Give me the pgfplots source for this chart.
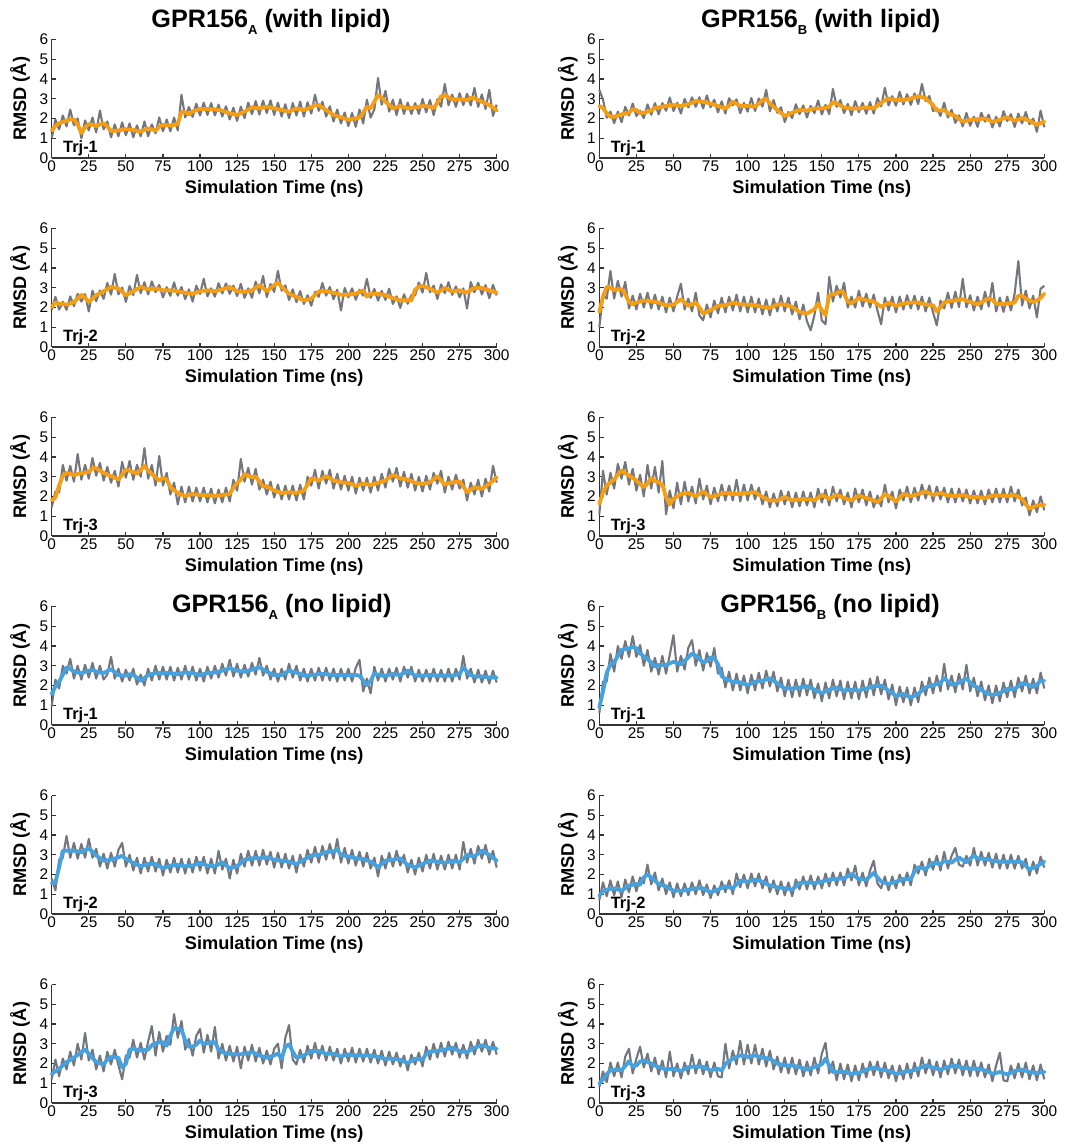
\documentclass[border=0pt]{standalone}
\usepackage{fontspec}
\setmainfont{Liberation Sans}
\usepackage{pgfplots}
\usepackage{pgfplotstable}
\pgfplotsset{compat=1.18}
\definecolor{rmsdgray}{RGB}{116,118,126}
\definecolor{lipidorange}{RGB}{245,158,20}
\definecolor{nolipidblue}{RGB}{70,162,222}

% GPR156_A with lipid, Trj-1
\pgfplotstableread{
x g s
0 1.00 1.39
2.5 1.95 1.62
5 1.45 1.76
7.5 2.15 1.83
10 1.60 1.89
12.5 2.45 1.96
15 1.65 1.95
17.5 2.00 1.70
20 1.00 1.26
22.5 1.90 1.55
25 1.40 1.72
27.5 2.05 1.68
30 1.30 1.62
32.5 2.40 1.70
35 1.45 1.76
37.5 1.85 1.60
40 1.05 1.37
42.5 1.70 1.38
45 1.10 1.39
47.5 1.80 1.43
50 1.15 1.46
52.5 1.75 1.44
55 1.05 1.42
57.5 1.65 1.38
60 1.10 1.34
62.5 1.85 1.42
65 1.10 1.50
67.5 1.70 1.45
70 1.25 1.39
72.5 2.05 1.58
75 1.35 1.67
77.5 1.95 1.66
80 1.35 1.64
82.5 2.05 1.68
85 1.40 1.72
87.5 3.20 2.35
90 2.05 2.31
92.5 2.58 2.20
95 2.08 2.35
97.5 2.75 2.42
100 2.15 2.48
102.5 2.80 2.48
105 2.18 2.48
107.5 2.78 2.47
110 2.16 2.46
112.5 2.70 2.43
115 2.10 2.40
117.5 2.62 2.33
120 1.95 2.26
122.5 2.55 2.22
125 1.88 2.18
127.5 2.60 2.27
130 2.02 2.35
132.5 2.80 2.46
135 2.22 2.56
137.5 2.88 2.53
140 2.20 2.51
142.5 2.90 2.56
145 2.28 2.60
147.5 2.92 2.55
150 2.18 2.51
152.5 2.80 2.47
155 2.10 2.43
157.5 2.72 2.39
160 2.02 2.35
162.5 2.78 2.43
165 2.15 2.51
167.5 2.85 2.47
170 2.10 2.43
172.5 2.82 2.50
175 2.25 2.56
177.5 3.20 2.70
180 2.39 2.68
182.5 2.85 2.55
185 2.10 2.43
187.5 2.62 2.30
190 1.85 2.18
192.5 2.45 2.12
195 1.75 2.06
197.5 2.30 2.00
200 1.62 1.93
202.5 2.28 1.97
205 1.58 2.01
207.5 2.45 2.05
210 1.75 2.30
212.5 2.95 2.60
215 2.05 2.51
217.5 2.45 2.85
220 4.05 3.18
222.5 2.70 3.05
225 3.40 2.85
227.5 2.35 2.68
230 2.95 2.51
232.5 2.17 2.57
235 2.97 2.63
237.5 2.23 2.57
240 2.80 2.51
242.5 2.23 2.54
245 2.78 2.56
247.5 2.23 2.60
250 2.99 2.63
252.5 2.31 2.62
255 2.94 2.60
257.5 2.17 2.52
260 2.98 2.80
262.5 2.60 3.12
265 3.75 3.18
267.5 2.67 3.07
270 3.21 2.97
272.5 2.59 2.97
275 3.28 2.97
277.5 2.68 2.95
280 3.25 2.93
282.5 2.66 3.05
285 3.55 3.02
287.5 2.59 2.93
290 3.22 2.85
292.5 2.48 2.77
295 3.45 2.68
297.5 2.13 2.55
300 2.70 2.40
}\tAone

% GPR156_B with lipid, Trj-1
\pgfplotstableread{
x g s
0 3.45 2.63
2.5 2.95 2.53
5 2.04 2.26
7.5 2.35 2.09
10 1.76 2.09
12.5 2.35 2.15
15 1.81 2.21
17.5 2.59 2.25
20 2.15 2.29
22.5 2.76 2.47
25 2.12 2.43
27.5 2.40 2.28
30 2.02 2.29
32.5 2.71 2.35
35 2.19 2.40
37.5 2.78 2.54
40 2.21 2.56
42.5 2.78 2.60
45 2.39 2.63
47.5 3.06 2.66
50 2.38 2.68
52.5 2.80 2.66
55 2.25 2.63
57.5 2.99 2.68
60 2.56 2.73
62.5 3.07 2.80
65 2.59 2.88
67.5 3.08 2.87
70 2.51 2.85
72.5 3.17 2.80
75 2.57 2.76
77.5 2.95 2.70
80 2.31 2.63
82.5 2.87 2.57
85 2.25 2.51
87.5 3.03 2.65
90 2.67 2.85
92.5 2.97 2.75
95 2.27 2.63
97.5 2.79 2.63
100 2.35 2.63
102.5 3.04 2.62
105 2.38 2.60
107.5 3.01 2.75
110 2.60 2.93
112.5 3.45 3.00
115 2.36 2.76
117.5 2.94 2.60
120 2.29 2.43
122.5 2.57 2.28
125 1.82 2.13
127.5 2.33 2.21
130 2.02 2.29
132.5 2.72 2.36
135 2.22 2.43
137.5 2.66 2.42
140 2.05 2.40
142.5 2.64 2.46
145 2.27 2.51
147.5 2.91 2.51
150 2.21 2.51
152.5 2.69 2.55
155 2.22 2.60
157.5 3.50 2.82
160 2.59 2.76
162.5 2.93 2.66
165 2.27 2.56
167.5 2.74 2.53
170 2.17 2.51
172.5 2.88 2.51
175 2.32 2.51
177.5 2.79 2.54
180 2.24 2.56
182.5 2.83 2.53
185 2.25 2.51
187.5 3.03 2.65
190 2.62 2.80
192.5 3.55 2.91
195 2.66 3.02
197.5 3.13 2.97
200 2.65 2.93
202.5 3.35 2.93
205 2.71 2.93
207.5 3.23 2.97
210 2.69 3.02
212.5 3.27 3.07
215 2.73 3.13
217.5 3.75 3.08
220 2.88 3.02
222.5 3.14 2.85
225 2.37 2.68
227.5 2.52 2.40
230 2.13 2.40
232.5 2.80 2.44
235 2.05 2.26
237.5 2.44 2.20
240 1.78 2.13
242.5 2.16 1.98
245 1.60 1.84
247.5 2.28 1.88
250 1.63 1.93
252.5 2.09 1.95
255 1.58 1.96
257.5 2.29 1.98
260 1.84 2.01
262.5 2.19 1.92
265 1.55 1.84
267.5 2.09 1.88
270 1.59 1.93
272.5 2.37 2.00
275 1.87 2.06
277.5 2.22 1.97
280 1.57 1.89
282.5 2.25 1.95
285 1.75 2.01
287.5 2.33 1.95
290 1.71 1.89
292.5 2.00 1.78
295 1.32 1.68
297.5 2.40 1.76
300 1.56 1.84
}\tBone

% GPR156_A with lipid, Trj-2
\pgfplotstableread{
x g s
0 1.89 2.03
2.5 2.54 2.25
5 1.89 2.20
7.5 2.29 2.17
10 1.88 2.15
12.5 2.56 2.20
15 2.07 2.28
17.5 2.69 2.45
20 2.30 2.65
22.5 2.68 2.50
25 1.80 2.28
27.5 2.85 2.45
30 2.32 2.62
32.5 2.86 2.72
35 2.44 2.82
37.5 3.24 2.93
40 2.65 3.04
42.5 3.70 3.00
45 2.67 2.96
47.5 3.01 2.80
50 2.28 2.62
52.5 3.09 2.72
55 2.63 2.82
57.5 3.65 2.93
60 2.72 3.04
62.5 3.28 2.98
65 2.66 2.92
67.5 3.32 2.94
70 2.78 2.96
72.5 3.14 2.92
75 2.51 2.87
77.5 3.03 2.87
80 2.59 2.87
82.5 3.27 2.85
85 2.60 2.82
87.5 3.04 2.78
90 2.42 2.75
92.5 2.92 2.72
95 2.30 2.70
97.5 3.10 2.76
100 2.68 2.82
102.5 3.45 2.85
105 2.56 2.87
107.5 2.97 2.85
110 2.55 2.82
112.5 3.23 2.87
115 2.71 2.92
117.5 3.22 2.98
120 2.69 3.04
122.5 3.11 2.93
125 2.58 2.82
127.5 3.20 2.80
130 2.49 2.79
132.5 2.97 2.83
135 2.49 2.87
137.5 3.31 3.00
140 2.72 3.13
142.5 3.60 2.98
145 2.53 2.82
147.5 3.19 2.98
150 2.79 3.13
152.5 3.85 3.27
155 2.85 3.04
157.5 3.12 2.87
160 2.38 2.70
162.5 2.92 2.62
165 2.27 2.53
167.5 2.83 2.45
170 2.18 2.36
172.5 2.62 2.40
175 2.09 2.45
177.5 2.79 2.63
180 2.54 2.82
182.5 3.24 2.82
185 2.60 2.82
187.5 3.04 2.78
190 2.42 2.75
192.5 2.90 2.70
195 1.85 2.65
197.5 2.99 2.65
200 2.51 2.65
202.5 2.97 2.68
205 2.39 2.70
207.5 2.90 2.78
210 2.60 2.87
212.5 3.45 2.55
215 2.49 2.70
217.5 2.94 2.70
220 2.35 2.70
222.5 2.84 2.66
225 2.38 2.62
227.5 2.95 2.55
230 2.18 2.48
232.5 2.56 2.42
235 1.98 2.36
237.5 2.67 2.36
240 2.19 2.36
242.5 2.63 2.36
245 2.61 2.90
247.5 3.27 3.06
250 2.75 3.09
252.5 3.75 3.02
255 2.77 2.96
257.5 3.11 2.86
260 2.43 2.75
262.5 3.17 2.87
265 2.73 2.99
267.5 3.28 2.90
270 2.64 2.82
272.5 3.07 2.85
275 2.51 2.87
277.5 2.97 2.81
280 1.95 2.75
282.5 3.29 2.87
285 2.77 2.99
287.5 3.25 2.99
290 2.66 2.99
292.5 3.13 2.93
295 2.47 2.87
297.5 3.15 2.81
300 2.61 2.75
}\tAtwo

% GPR156_B with lipid, Trj-2
\pgfplotstableread{
x g s
0 1.00 1.77
2.5 2.60 2.55
5 2.45 3.04
7.5 3.85 3.00
10 2.45 2.87
12.5 3.35 2.92
15 2.55 2.92
17.5 3.30 2.67
20 1.95 2.28
22.5 2.60 2.17
25 1.90 2.25
27.5 2.70 2.30
30 2.00 2.36
32.5 2.75 2.34
35 1.95 2.31
37.5 2.65 2.28
40 1.90 2.25
42.5 2.55 2.18
45 1.75 2.11
47.5 2.50 2.13
50 1.80 2.15
52.5 2.55 2.28
55 3.20 2.42
57.5 1.90 2.25
60 2.45 2.08
62.5 1.80 2.16
65 2.75 2.25
67.5 1.60 2.00
70 1.35 1.69
72.5 2.15 1.78
75 1.50 1.86
77.5 2.35 1.97
80 1.70 2.08
82.5 2.50 2.10
85 1.75 2.11
87.5 2.55 2.18
90 1.85 2.25
92.5 2.65 2.20
95 1.80 2.15
97.5 2.55 2.15
100 1.75 2.15
102.5 2.55 2.13
105 1.75 2.11
107.5 2.45 2.07
110 1.65 2.03
112.5 2.40 2.00
115 1.60 1.98
117.5 2.45 2.07
120 1.80 2.15
122.5 2.60 2.15
125 1.80 2.15
127.5 2.50 2.09
130 1.65 2.03
132.5 2.30 1.90
135 1.40 1.77
137.5 2.15 1.73
140 1.30 1.69
142.5 0.85 1.80
145 1.60 1.91
147.5 2.75 2.20
150 1.35 1.86
152.5 1.15 1.62
155 3.55 2.62
157.5 2.30 2.66
160 3.10 2.70
162.5 2.50 2.85
165 3.25 2.70
167.5 2.00 2.30
170 2.55 2.20
172.5 2.00 2.34
175 2.85 2.48
177.5 2.05 2.42
180 2.70 2.36
182.5 2.00 2.34
185 2.65 2.31
187.5 1.85 2.17
190 1.15 2.03
192.5 2.50 2.14
195 1.85 2.25
197.5 2.55 2.17
200 1.75 2.08
202.5 2.55 2.14
205 1.90 2.20
207.5 2.62 2.23
210 1.95 2.25
212.5 2.60 2.25
215 1.90 2.25
217.5 2.55 2.20
220 1.80 2.15
222.5 2.50 2.13
225 1.75 2.11
227.5 1.10 1.80
230 2.35 2.00
232.5 1.95 2.26
235 2.75 2.31
237.5 1.98 2.34
240 2.80 2.36
242.5 2.02 2.39
245 3.45 2.42
247.5 2.00 2.35
250 2.62 2.28
252.5 1.85 2.22
255 2.55 2.15
257.5 1.90 2.26
260 2.80 2.36
262.5 2.05 2.46
265 3.25 2.40
267.5 1.80 2.18
270 2.50 2.17
272.5 1.78 2.19
275 2.55 2.20
277.5 1.85 2.22
280 2.70 2.25
282.5 4.35 2.60
285 2.10 2.58
287.5 2.85 2.46
290 1.95 2.36
292.5 2.60 2.27
295 1.50 2.36
297.5 2.95 2.48
300 3.10 2.70
}\tBtwo

% GPR156_A with lipid, Trj-3
\pgfplotstableread{
x g s
0 1.45 1.80
2.5 2.25 1.95
5 2.20 2.55
7.5 3.60 3.05
10 2.80 3.19
12.5 3.55 3.14
15 2.75 3.09
17.5 4.15 3.14
20 2.85 3.19
22.5 3.60 3.21
25 2.90 3.23
27.5 3.95 3.44
30 3.05 3.43
32.5 3.70 3.31
35 2.80 3.19
37.5 3.50 3.11
40 2.70 3.03
42.5 3.30 2.95
45 2.50 2.86
47.5 3.75 3.10
50 2.95 3.36
52.5 3.80 3.30
55 2.85 3.23
57.5 3.60 3.15
60 3.00 3.35
62.5 4.45 3.55
65 2.90 3.31
67.5 3.60 3.14
70 2.55 2.97
72.5 4.05 2.80
75 2.55 2.95
77.5 3.20 2.85
80 2.10 2.47
82.5 2.70 2.32
85 1.60 2.18
87.5 2.50 2.10
90 1.70 2.02
92.5 2.50 2.08
95 1.75 2.13
97.5 2.45 2.10
100 1.75 2.08
102.5 2.45 2.08
105 1.70 2.08
107.5 2.40 2.05
110 1.65 2.02
112.5 2.35 2.05
115 1.70 2.08
117.5 2.45 2.10
120 1.75 2.13
122.5 2.85 2.45
125 2.30 2.68
127.5 3.90 2.85
130 2.75 3.14
132.5 3.45 3.05
135 2.60 2.97
137.5 3.40 3.02
140 2.35 2.75
142.5 2.85 2.50
145 2.10 2.52
147.5 2.75 2.41
150 1.95 2.30
152.5 2.60 2.24
155 1.85 2.18
157.5 2.55 2.20
160 1.85 2.22
162.5 2.55 2.20
165 1.80 2.18
167.5 2.60 2.24
170 1.85 2.30
172.5 3.00 2.61
175 2.55 2.92
177.5 3.35 2.87
180 2.40 2.81
182.5 3.30 2.92
185 2.65 3.03
187.5 3.35 2.92
190 2.40 2.81
192.5 3.15 2.77
195 2.35 2.72
197.5 3.05 2.70
200 2.30 2.69
202.5 3.00 2.62
205 2.15 2.55
207.5 2.95 2.60
210 2.30 2.64
212.5 2.95 2.62
215 2.20 2.59
217.5 3.00 2.64
220 2.30 2.69
222.5 3.15 2.75
225 2.45 2.81
227.5 3.40 2.95
230 2.75 3.09
232.5 3.45 3.00
235 2.50 2.92
237.5 3.25 2.89
240 2.45 2.86
242.5 3.15 2.78
245 2.30 2.69
247.5 3.00 2.67
250 2.25 2.64
252.5 3.05 2.68
255 2.35 2.72
257.5 3.20 2.88
260 2.65 3.03
262.5 3.30 2.81
265 2.20 2.59
267.5 3.00 2.66
270 2.35 2.72
272.5 3.10 2.74
275 2.40 2.76
277.5 2.85 2.50
280 1.80 2.22
282.5 2.70 2.35
285 2.10 2.47
287.5 2.85 2.43
290 2.00 2.39
292.5 2.90 2.52
295 2.25 2.64
297.5 3.55 2.80
300 2.70 2.97
}\tAthree

% GPR156_B with lipid, Trj-3
\pgfplotstableread{
x g s
0 1.10 1.63
2.5 3.30 2.20
5 2.10 2.55
7.5 3.20 2.72
10 2.40 2.86
12.5 3.65 3.10
15 2.90 3.31
17.5 3.75 3.18
20 2.60 3.06
22.5 3.40 2.94
25 2.30 2.81
27.5 3.10 2.64
30 2.00 2.47
32.5 3.60 2.65
35 2.40 2.92
37.5 3.50 2.78
40 2.20 2.72
42.5 3.80 2.60
45 1.10 1.97
47.5 2.30 1.60
50 1.40 1.88
52.5 2.70 2.00
55 1.60 2.13
57.5 2.75 2.15
60 1.75 2.18
62.5 2.50 2.10
65 1.65 2.02
67.5 2.90 2.13
70 1.85 2.25
72.5 2.55 2.11
75 1.60 1.97
77.5 2.45 2.02
80 1.75 2.08
82.5 2.60 2.13
85 1.80 2.18
87.5 2.55 2.15
90 1.80 2.13
92.5 2.85 2.13
95 1.75 2.13
97.5 2.60 2.15
100 1.80 2.18
102.5 2.60 2.20
105 1.85 2.22
107.5 2.45 2.10
110 1.60 1.97
112.5 2.25 1.88
115 1.45 1.80
117.5 2.15 1.80
120 1.50 1.80
122.5 2.30 1.88
125 1.60 1.97
127.5 2.25 1.88
130 1.45 1.80
132.5 2.20 1.83
135 1.50 1.85
137.5 2.25 1.86
140 1.55 1.88
142.5 2.20 1.84
145 1.45 1.80
147.5 2.40 1.94
150 1.70 2.08
152.5 2.35 1.98
155 1.55 1.88
157.5 2.50 1.98
160 1.75 2.08
162.5 2.35 2.00
165 1.60 1.92
167.5 2.20 1.86
170 1.45 1.80
172.5 2.40 1.92
175 1.70 2.05
177.5 2.35 1.98
180 1.55 1.92
182.5 2.25 1.86
185 1.45 1.80
187.5 2.05 1.70
190 1.50 1.90
192.5 2.60 2.13
195 1.70 2.02
197.5 2.25 1.88
200 1.40 1.75
202.5 2.35 1.94
205 1.80 2.13
207.5 2.50 2.07
210 1.70 2.02
212.5 2.45 2.07
215 1.80 2.13
217.5 2.60 2.19
220 1.90 2.25
222.5 2.55 2.16
225 1.75 2.08
227.5 2.50 2.13
230 1.85 2.18
232.5 2.45 2.11
235 1.70 2.05
237.5 2.40 2.03
240 1.70 2.02
242.5 2.40 2.05
245 1.75 2.08
247.5 2.35 2.02
250 1.65 1.97
252.5 2.30 1.97
255 1.65 1.97
257.5 2.30 1.94
260 1.60 1.92
262.5 2.35 1.98
265 1.70 2.05
267.5 2.40 2.05
270 1.70 2.05
272.5 2.40 2.03
275 1.70 2.02
277.5 2.50 2.05
280 1.75 2.08
282.5 2.35 1.98
285 1.55 1.88
287.5 1.95 1.60
290 1.05 1.38
292.5 1.80 1.46
295 1.20 1.55
297.5 2.00 1.56
300 1.30 1.58
}\tBthree

% GPR156_A no lipid, Trj-1
\pgfplotstableread{
x g s
0 0.95 1.57
2.5 2.30 1.95
5 1.85 2.19
7.5 3.00 2.55
10 2.60 2.92
12.5 3.35 2.85
15 2.35 2.70
17.5 3.00 2.66
20 2.30 2.63
22.5 3.05 2.69
25 2.40 2.75
27.5 3.15 2.79
30 2.35 2.70
32.5 3.00 2.66
35 2.30 2.63
37.5 2.55 2.73
40 3.45 2.83
42.5 2.35 2.68
45 2.85 2.53
47.5 2.20 2.51
50 2.80 2.50
52.5 2.25 2.57
55 2.85 2.53
57.5 2.05 2.40
60 2.55 2.24
62.5 2.00 2.38
65 2.85 2.53
67.5 2.25 2.58
70 3.00 2.63
72.5 2.30 2.63
75 2.95 2.63
77.5 2.30 2.63
80 2.95 2.63
82.5 2.25 2.60
85 2.90 2.58
87.5 2.30 2.62
90 3.00 2.66
92.5 2.30 2.64
95 2.95 2.63
97.5 2.25 2.58
100 2.85 2.53
102.5 2.20 2.58
105 2.95 2.63
107.5 2.35 2.64
110 3.00 2.66
112.5 2.40 2.70
115 3.10 2.75
117.5 2.50 2.81
120 3.30 2.87
122.5 2.45 2.81
125 3.10 2.75
127.5 2.40 2.72
130 3.05 2.70
132.5 2.45 2.75
135 3.15 2.80
137.5 2.55 2.86
140 3.40 2.92
142.5 2.50 2.81
145 3.00 2.70
147.5 2.30 2.61
150 2.85 2.53
152.5 2.20 2.53
155 2.85 2.53
157.5 2.30 2.64
160 3.10 2.75
162.5 2.40 2.70
165 3.00 2.66
167.5 2.25 2.58
170 2.85 2.50
172.5 2.20 2.51
175 2.85 2.53
177.5 2.25 2.55
180 2.90 2.58
182.5 2.25 2.58
185 2.90 2.58
187.5 2.25 2.55
190 2.85 2.53
192.5 2.20 2.53
195 2.85 2.53
197.5 2.25 2.53
200 2.85 2.53
202.5 2.20 2.53
205 2.90 2.53
207.5 3.30 2.50
210 1.70 2.25
212.5 2.35 2.02
215 1.60 2.24
217.5 2.95 2.60
220 2.25 2.55
222.5 2.85 2.50
225 2.20 2.50
227.5 2.85 2.54
230 2.30 2.58
232.5 2.90 2.55
235 2.20 2.53
237.5 2.95 2.64
240 2.40 2.75
242.5 2.95 2.62
245 2.20 2.50
247.5 2.80 2.50
250 2.20 2.50
252.5 2.80 2.51
255 2.20 2.53
257.5 2.85 2.51
260 2.20 2.50
262.5 2.80 2.50
265 2.20 2.50
267.5 2.85 2.50
270 2.20 2.50
272.5 2.85 2.54
275 2.30 2.58
277.5 3.50 2.92
280 2.35 2.70
282.5 2.85 2.52
285 2.15 2.46
287.5 2.80 2.46
290 2.15 2.46
292.5 2.75 2.43
295 2.10 2.41
297.5 2.75 2.41
300 2.15 2.41
}\tCone

% GPR156_B no lipid, Trj-1
\pgfplotstableread{
x g s
0 0.60 0.89
2.5 2.20 1.70
5 2.20 2.65
7.5 3.60 3.06
10 2.70 3.17
12.5 4.00 3.50
15 3.35 3.81
17.5 4.25 3.85
20 3.45 3.88
22.5 4.50 3.96
25 3.45 3.88
27.5 4.05 3.62
30 3.00 3.47
32.5 3.80 3.34
35 2.70 3.17
37.5 3.40 2.96
40 2.55 3.04
42.5 3.50 3.04
45 2.60 3.04
47.5 3.55 3.12
50 4.55 3.20
52.5 2.70 3.14
55 3.50 3.08
57.5 2.80 3.25
60 3.90 3.42
62.5 4.30 3.62
65 3.00 3.51
67.5 3.80 3.34
70 2.75 3.17
72.5 3.65 3.24
75 2.95 3.42
77.5 3.90 3.38
80 2.60 3.08
82.5 2.90 2.48
85 1.90 2.33
87.5 2.70 2.26
90 1.75 2.19
92.5 2.60 2.18
95 1.75 2.16
97.5 2.50 2.09
100 1.60 2.02
102.5 2.55 2.11
105 1.75 2.19
107.5 2.65 2.22
110 1.85 2.24
112.5 2.75 2.30
115 1.95 2.36
117.5 2.70 2.24
120 1.70 2.12
122.5 2.40 1.98
125 1.45 1.85
127.5 2.30 1.85
130 1.40 1.85
132.5 2.30 1.88
135 1.45 1.90
137.5 2.35 1.93
140 1.50 1.96
142.5 2.30 1.88
145 1.35 1.79
147.5 2.10 1.70
150 1.20 1.62
152.5 2.15 1.70
155 1.35 1.79
157.5 2.30 1.85
160 1.45 1.90
162.5 2.25 1.82
165 1.30 1.74
167.5 2.20 1.77
170 1.35 1.79
172.5 2.20 1.77
175 1.30 1.74
177.5 2.25 1.80
180 1.40 1.85
182.5 2.35 1.90
185 1.50 1.96
187.5 2.45 1.98
190 1.55 1.99
192.5 2.30 1.87
195 1.30 1.74
197.5 2.05 1.61
200 1.00 1.48
202.5 1.95 1.52
205 1.15 1.57
207.5 1.90 1.48
210 1.00 1.40
212.5 1.90 1.48
215 1.15 1.57
217.5 2.20 1.74
220 1.50 1.90
222.5 2.40 1.96
225 1.60 2.02
227.5 2.50 2.07
230 1.70 2.12
232.5 3.10 2.38
235 1.80 2.20
237.5 2.50 2.04
240 1.65 2.08
242.5 2.60 2.14
245 1.80 2.25
247.5 3.05 2.36
250 1.70 2.15
252.5 2.40 1.98
255 1.45 1.90
257.5 2.20 1.78
260 1.25 1.65
262.5 2.00 1.58
265 1.10 1.52
267.5 2.00 1.57
270 1.20 1.62
272.5 2.15 1.72
275 1.40 1.82
277.5 2.25 1.82
280 1.40 1.82
282.5 2.40 1.97
285 1.70 2.12
287.5 2.50 2.07
290 1.60 2.02
292.5 2.35 1.92
295 1.60 2.05
297.5 2.65 2.24
300 1.85 2.24
}\tDone

% GPR156_A no lipid, Trj-2
\pgfplotstableread{
x g s
0 1.80 1.57
2.5 1.20 1.60
5 2.75 2.37
7.5 2.85 3.20
10 3.95 3.21
12.5 2.85 3.21
15 3.60 3.21
17.5 2.80 3.17
20 3.55 3.13
22.5 2.85 3.23
25 3.80 3.33
27.5 2.85 3.15
30 3.30 2.96
32.5 2.40 2.83
35 3.05 2.70
37.5 2.30 2.72
40 3.10 2.75
42.5 2.40 2.81
45 3.25 2.87
47.5 3.60 2.95
50 2.40 2.79
52.5 3.00 2.69
55 2.20 2.59
57.5 2.85 2.50
60 2.05 2.42
62.5 2.85 2.47
65 2.15 2.53
67.5 2.90 2.53
70 2.15 2.53
72.5 2.80 2.43
75 1.95 2.32
77.5 2.75 2.38
80 2.10 2.45
82.5 2.85 2.46
85 2.10 2.48
87.5 2.80 2.45
90 2.05 2.42
92.5 2.80 2.43
95 2.10 2.45
97.5 2.90 2.52
100 2.20 2.59
102.5 2.90 2.52
105 2.05 2.45
107.5 2.80 2.43
110 2.05 2.42
112.5 3.20 2.52
115 2.25 2.62
117.5 2.80 2.47
120 1.80 2.32
122.5 2.75 2.37
125 2.05 2.42
127.5 3.05 2.58
130 2.40 2.75
132.5 3.20 2.78
135 2.45 2.82
137.5 3.20 2.82
140 2.45 2.82
142.5 3.25 2.85
145 2.50 2.87
147.5 3.15 2.81
150 2.35 2.75
152.5 3.10 2.72
155 2.35 2.70
157.5 3.05 2.68
160 2.30 2.65
162.5 2.95 2.59
165 2.10 2.53
167.5 3.00 2.64
170 2.40 2.75
172.5 3.25 2.85
175 2.60 2.96
177.5 3.40 2.98
180 2.60 2.99
182.5 3.45 3.06
185 2.75 3.13
187.5 3.55 3.15
190 2.80 3.16
192.5 3.80 3.28
195 2.60 2.99
197.5 3.35 2.95
200 2.55 2.92
202.5 3.25 2.87
205 2.45 2.82
207.5 3.15 2.80
210 2.40 2.79
212.5 3.10 2.72
215 2.30 2.65
217.5 2.85 2.51
220 1.90 2.37
222.5 2.95 2.54
225 2.30 2.70
227.5 3.10 2.72
230 2.40 2.75
232.5 3.20 2.79
235 2.45 2.82
237.5 3.00 2.65
240 2.10 2.48
242.5 2.75 2.42
245 2.00 2.37
247.5 2.85 2.45
250 2.15 2.53
252.5 3.00 2.62
255 2.30 2.70
257.5 3.05 2.68
260 2.25 2.65
262.5 2.95 2.62
265 2.25 2.59
267.5 3.00 2.65
270 2.30 2.70
272.5 3.00 2.66
275 2.25 2.62
277.5 3.65 2.80
280 2.60 2.99
282.5 3.30 2.95
285 2.55 2.92
287.5 3.45 3.06
290 2.80 3.21
292.5 3.50 3.10
295 2.60 2.99
297.5 3.20 2.85
300 2.35 2.70
}\tCtwo

% GPR156_B no lipid, Trj-2
\pgfplotstableread{
x g s
0 0.70 0.93
2.5 1.60 1.15
5 0.90 1.23
7.5 1.70 1.27
10 0.95 1.30
12.5 1.65 1.24
15 0.85 1.18
17.5 1.75 1.31
20 1.10 1.44
22.5 1.90 1.48
25 1.15 1.52
27.5 1.85 1.48
30 1.55 1.86
32.5 2.50 2.00
35 1.50 1.86
37.5 2.10 1.69
40 1.20 1.52
42.5 1.80 1.46
45 1.00 1.40
47.5 1.60 1.29
50 0.85 1.18
52.5 1.55 1.18
55 0.90 1.18
57.5 1.55 1.20
60 0.95 1.23
62.5 1.60 1.27
65 1.00 1.30
67.5 1.70 1.30
70 0.95 1.30
72.5 1.50 1.20
75 0.80 1.10
77.5 1.45 1.17
80 0.95 1.23
82.5 1.65 1.32
85 1.10 1.40
87.5 1.70 1.35
90 1.00 1.30
92.5 2.05 1.50
95 1.35 1.69
97.5 2.00 1.67
100 1.30 1.64
102.5 2.05 1.69
105 1.40 1.74
107.5 2.05 1.69
110 1.30 1.64
112.5 1.90 1.54
115 1.10 1.44
117.5 1.70 1.40
120 1.00 1.35
122.5 1.65 1.33
125 0.95 1.30
127.5 1.60 1.27
130 0.90 1.23
132.5 1.75 1.40
135 1.25 1.57
137.5 1.90 1.59
140 1.25 1.60
142.5 1.95 1.59
145 1.25 1.57
147.5 1.90 1.60
150 1.30 1.64
152.5 2.05 1.69
155 1.40 1.74
157.5 2.10 1.76
160 1.45 1.77
162.5 2.10 1.79
165 1.45 1.81
167.5 2.30 1.92
170 1.70 2.03
172.5 2.45 1.90
175 1.45 1.77
177.5 2.10 1.76
180 1.40 1.74
182.5 2.20 1.91
185 2.70 2.08
187.5 1.55 1.86
190 1.30 1.64
192.5 1.90 1.58
195 1.20 1.52
197.5 1.90 1.58
200 1.30 1.64
202.5 2.00 1.70
205 1.45 1.77
207.5 2.10 1.77
210 1.45 1.77
212.5 2.50 2.15
215 2.05 2.37
217.5 2.65 2.33
220 1.95 2.28
222.5 2.80 2.44
225 2.25 2.59
227.5 2.95 2.56
230 2.20 2.53
232.5 3.15 2.68
235 2.30 2.64
237.5 2.95 2.60
240 3.35 2.75
242.5 2.50 2.86
245 2.40 2.73
247.5 2.95 2.62
250 2.45 2.80
252.5 3.35 2.95
255 2.45 2.82
257.5 3.15 2.80
260 2.45 2.79
262.5 3.10 2.75
265 2.35 2.70
267.5 3.05 2.68
270 2.30 2.65
272.5 3.00 2.65
275 2.30 2.65
277.5 3.00 2.65
280 2.30 2.65
282.5 2.95 2.64
285 2.30 2.62
287.5 2.80 2.44
290 1.95 2.25
292.5 2.65 2.34
295 2.05 2.42
297.5 2.90 2.54
300 2.35 2.65
}\tDtwo

% GPR156_A no lipid, Trj-3
\pgfplotstableread{
x g s
0 1.20 1.48
2.5 2.20 1.61
5 1.35 1.74
7.5 2.25 1.90
10 1.70 2.07
12.5 2.60 2.18
15 1.90 2.29
17.5 3.00 2.44
20 2.20 2.58
22.5 3.55 2.72
25 2.15 2.49
27.5 2.70 2.28
30 1.70 2.07
32.5 2.40 2.01
35 1.60 1.96
37.5 2.60 2.20
40 1.95 2.33
42.5 2.70 2.31
45 1.90 2.29
47.5 1.20 1.80
50 2.40 1.99
52.5 2.30 2.70
55 3.20 2.75
57.5 2.30 2.70
60 3.05 2.66
62.5 2.20 2.68
65 3.10 2.70
67.5 3.90 2.93
70 2.40 3.02
72.5 3.60 3.08
75 2.60 3.08
77.5 3.40 2.90
80 2.95 3.42
82.5 4.50 3.80
85 3.30 3.76
87.5 4.15 3.72
90 2.70 3.17
92.5 3.25 2.85
95 2.40 2.86
97.5 3.40 2.95
100 3.75 3.17
102.5 2.55 3.00
105 3.45 3.02
107.5 2.60 3.08
110 3.85 3.08
112.5 2.25 2.70
115 3.00 2.58
117.5 2.15 2.52
120 2.90 2.49
122.5 2.10 2.47
125 2.85 2.46
127.5 1.75 2.47
130 2.85 2.49
132.5 2.15 2.53
135 2.95 2.58
137.5 2.10 2.50
140 2.80 2.41
142.5 2.00 2.35
145 2.65 2.29
147.5 1.95 2.35
150 2.75 2.41
152.5 3.00 2.51
155 1.75 2.24
157.5 3.30 2.85
160 3.95 2.97
162.5 2.20 2.60
165 1.95 2.29
167.5 2.70 2.35
170 2.05 2.41
172.5 2.90 2.52
175 2.25 2.63
177.5 3.05 2.63
180 2.25 2.63
182.5 2.90 2.56
185 2.15 2.49
187.5 2.85 2.49
190 2.15 2.49
192.5 2.75 2.42
195 2.00 2.36
197.5 2.75 2.41
200 2.10 2.46
202.5 2.80 2.43
205 2.05 2.41
207.5 2.75 2.41
210 2.10 2.41
212.5 2.75 2.41
215 2.05 2.41
217.5 2.70 2.37
220 2.00 2.33
222.5 2.65 2.28
225 1.90 2.24
227.5 2.60 2.24
230 1.95 2.24
232.5 2.55 2.22
235 1.85 2.19
237.5 2.40 2.10
240 1.65 2.02
242.5 2.45 2.13
245 1.95 2.24
247.5 2.55 2.21
250 1.85 2.19
252.5 2.85 2.50
255 2.20 2.60
257.5 3.00 2.63
260 2.30 2.65
262.5 3.05 2.66
265 2.35 2.70
267.5 3.10 2.75
270 2.45 2.80
272.5 3.05 2.71
275 2.30 2.63
277.5 2.95 2.60
280 2.25 2.58
282.5 3.10 2.69
285 2.45 2.80
287.5 3.20 2.86
290 2.60 2.92
292.5 3.20 2.86
295 2.45 2.80
297.5 3.10 2.77
300 2.45 2.75
}\tCthree

% GPR156_B no lipid, Trj-3
\pgfplotstableread{
x g s
0 0.80 0.98
2.5 1.60 1.20
5 1.05 1.45
7.5 2.05 1.66
10 1.35 1.69
12.5 2.05 1.67
15 1.30 1.65
17.5 2.35 1.88
20 2.75 2.12
22.5 1.50 1.85
25 2.25 1.90
27.5 2.85 2.10
30 1.80 2.16
32.5 2.50 2.08
35 1.60 1.99
37.5 2.30 1.90
40 1.45 1.82
42.5 2.15 1.76
45 1.30 1.69
47.5 2.60 1.72
50 1.35 1.74
52.5 2.00 1.68
55 1.25 1.62
57.5 2.05 1.72
60 1.45 1.82
62.5 2.45 1.84
65 1.50 1.85
67.5 2.20 1.84
70 1.45 1.82
72.5 2.10 1.74
75 1.30 1.65
77.5 2.05 1.70
80 1.35 1.74
82.5 1.30 1.64
85 3.00 1.99
87.5 1.75 2.12
90 2.65 2.24
92.5 1.95 2.33
95 3.15 2.41
97.5 1.95 2.37
100 2.95 2.33
102.5 2.00 2.37
105 2.95 2.41
107.5 1.95 2.35
110 2.75 2.29
112.5 1.85 2.27
115 2.65 2.24
117.5 1.70 2.12
120 2.35 1.99
122.5 1.55 1.95
125 2.30 1.90
127.5 1.50 1.90
130 2.30 1.90
132.5 1.45 1.86
135 2.20 1.82
137.5 1.35 1.76
140 2.10 1.69
142.5 1.40 1.76
145 2.30 1.82
147.5 1.50 1.89
150 2.50 1.96
152.5 3.05 2.25
155 1.50 1.90
157.5 2.10 1.57
160 1.15 1.57
162.5 2.00 1.57
165 1.20 1.57
167.5 1.95 1.52
170 1.10 1.48
172.5 1.90 1.50
175 1.15 1.52
177.5 2.00 1.60
180 1.30 1.69
182.5 2.10 1.74
185 1.40 1.79
187.5 2.10 1.74
190 1.30 1.69
192.5 2.05 1.66
195 1.25 1.62
197.5 1.90 1.55
200 1.10 1.48
202.5 1.90 1.52
205 1.20 1.57
207.5 2.00 1.60
210 1.25 1.62
212.5 2.05 1.68
215 1.35 1.74
217.5 2.30 1.82
220 1.50 1.90
222.5 2.20 1.84
225 1.40 1.79
227.5 2.10 1.74
230 1.30 1.69
232.5 2.15 1.76
235 1.45 1.82
237.5 2.25 1.86
240 1.50 1.90
242.5 2.20 1.84
245 1.40 1.79
247.5 2.15 1.76
250 1.35 1.74
252.5 2.15 1.74
255 1.35 1.74
257.5 2.05 1.70
260 1.30 1.65
262.5 1.95 1.57
265 1.10 1.48
267.5 1.90 1.52
270 2.55 1.57
272.5 1.15 1.51
275 1.10 1.45
277.5 1.90 1.54
280 1.25 1.62
282.5 2.00 1.66
285 1.30 1.69
287.5 2.05 1.63
290 1.20 1.57
292.5 1.90 1.54
295 1.15 1.52
297.5 1.95 1.55
300 1.20 1.57
}\tDthree

\pgfplotsset{rmsd/.style={
  scale only axis, width=222.5pt, height=59.25pt,
  anchor=south west,
  xmin=0, xmax=300, ymin=0, ymax=6,
  axis x line=bottom, axis y line=left,
  axis line style={-, draw=black!80, line width=0.6pt},
  xtick={0,25,...,300}, ytick={0,1,...,6},
  tick align=inside, major tick length=2.2pt,
  tick style={black!80, line width=0.6pt},
  /pgf/number format/assume math mode=true,
  tick label style={font=\fontsize{7.7}{9}\selectfont, text=black},
  xticklabel style={inner sep=1.2pt},
  yticklabel style={inner sep=1.6pt},
  xlabel={Simulation Time (ns)}, ylabel={RMSD (Å)},
  every axis x label/.style={at={(axis description cs:0.5,-0.256)}, anchor=center, font=\bfseries\fontsize{9.1}{11}\selectfont},
  every axis y label/.style={at={(axis description cs:-0.0712,0.5)}, rotate=90, anchor=center, font=\bfseries\fontsize{9.1}{11}\selectfont},
  clip=false,
}}
\tikzset{trj/.style={font=\bfseries\fontsize{8.2}{10}\selectfont, anchor=base west, inner sep=0pt},
  ttl/.style={font=\bfseries\fontsize{12.6}{14}\selectfont, inner sep=0pt}}

\newcommand{\rmsdpanel}[5]{%
\begin{axis}[rmsd, at={(#1pt,#2pt)}]
\addplot[rmsdgray, line width=1.05pt, line join=round] table[x=x,y=g]{#3};
\addplot[#4, line width=1.9pt, line join=round, line cap=round] table[x=x,y=s]{#3};
\node[trj] at (axis cs:7.5,0.3) {#5};
\end{axis}}

\begin{document}
\begin{tikzpicture}
\useasboundingbox (0pt,0pt) rectangle (539pt,-572pt);
\rmsdpanel{25.85}{-79}{\tAone}{lipidorange}{Trj-1}
\rmsdpanel{299.65}{-79}{\tBone}{lipidorange}{Trj-1}
\rmsdpanel{25.85}{-173.5}{\tAtwo}{lipidorange}{Trj-2}
\rmsdpanel{299.65}{-173.5}{\tBtwo}{lipidorange}{Trj-2}
\rmsdpanel{25.85}{-268}{\tAthree}{lipidorange}{Trj-3}
\rmsdpanel{299.65}{-268}{\tBthree}{lipidorange}{Trj-3}
\rmsdpanel{25.85}{-362.5}{\tCone}{nolipidblue}{Trj-1}
\rmsdpanel{299.65}{-362.5}{\tDone}{nolipidblue}{Trj-1}
\rmsdpanel{25.85}{-457}{\tCtwo}{nolipidblue}{Trj-2}
\rmsdpanel{299.65}{-457}{\tDtwo}{nolipidblue}{Trj-2}
\rmsdpanel{25.85}{-551.5}{\tCthree}{nolipidblue}{Trj-3}
\rmsdpanel{299.65}{-551.5}{\tDthree}{nolipidblue}{Trj-3}
\node[ttl] at (135.5pt,-10.85pt) {GPR156\raisebox{-3.3pt}{\fontsize{6.5}{7}\selectfont A} (with lipid)};
\node[ttl] at (410.35pt,-10.85pt) {GPR156\raisebox{-3.3pt}{\fontsize{6.5}{7}\selectfont B} (with lipid)};
\node[ttl] at (140.85pt,-303.5pt) {GPR156\raisebox{-3.3pt}{\fontsize{6.5}{7}\selectfont A} (no lipid)};
\node[ttl] at (415pt,-303.5pt) {GPR156\raisebox{-3.3pt}{\fontsize{6.5}{7}\selectfont B} (no lipid)};
\end{tikzpicture}
\end{document}
